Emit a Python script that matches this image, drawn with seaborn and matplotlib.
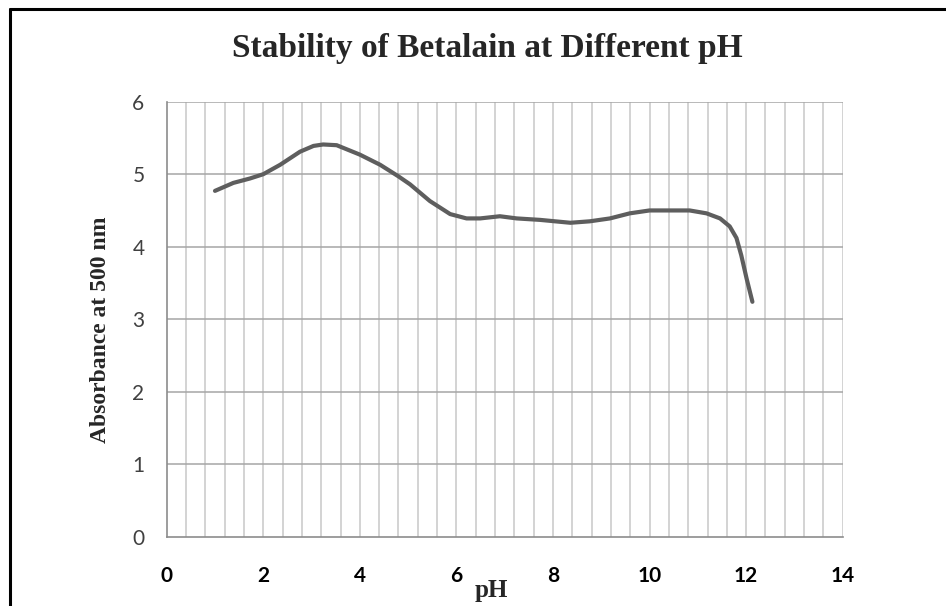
import matplotlib
matplotlib.use("Agg")
import matplotlib.pyplot as plt
from matplotlib.lines import Line2D
import numpy as np
import pandas as pd
import seaborn as sns

# values
ph = [1.00, 1.38, 1.72, 2.00, 2.35, 2.76, 3.04, 3.24, 3.52, 4.00, 4.42, 4.80,
      5.04, 5.45, 5.87, 6.21, 6.49, 6.90, 7.25, 7.73, 8.36, 8.76, 9.18, 9.59,
      10.00, 10.42, 10.83, 11.18, 11.46, 11.66, 11.80, 11.90, 12.01, 12.13]
absorbance = [4.77, 4.88, 4.94, 5.00, 5.13, 5.31, 5.39, 5.41, 5.40, 5.27, 5.13, 4.97,
              4.86, 4.63, 4.45, 4.39, 4.39, 4.42, 4.39, 4.37, 4.33, 4.35, 4.39, 4.46,
              4.50, 4.50, 4.50, 4.46, 4.39, 4.28, 4.12, 3.88, 3.56, 3.24]
x_ticks = [0, 2, 4, 6, 8, 10, 12, 14]
y_ticks = [0, 1, 2, 3, 4, 5, 6]

df = pd.DataFrame({"pH": ph, "Absorbance": absorbance})

sns.set_style("white")
plt.rcParams["font.family"] = ["Lato", "DejaVu Sans"]

W, H = 946, 606
fig = plt.figure(figsize=(W / 100, H / 100), dpi=100)
ax = fig.add_axes([166.7 / W, 1 - 536.7 / H, (842.7 - 166.7) / W, (536.7 - 101.7) / H])

# Excel-like grid: minor verticals every 0.4, majors horizontal
for xv in np.arange(0.4, 14.01, 0.4):
    ax.axvline(xv, color="#c8c8c8", lw=1.1, zorder=0)
for yv in y_ticks[1:]:
    ax.axhline(yv, color="#a6a6a6", lw=1.1, zorder=0)

sns.lineplot(data=df, x="pH", y="Absorbance", sort=False, estimator=None,
             color="#5e5e5e", linewidth=3.0, ax=ax, zorder=3)
ax.lines[-1].set_solid_capstyle("round")
ax.lines[-1].set_solid_joinstyle("round")

ax.set_xlim(0, 14)
ax.set_ylim(0, 6)
ax.set_xticks(x_ticks)
ax.set_yticks(y_ticks)
ax.set_xticklabels([str(t) for t in x_ticks], fontsize=15, fontweight="bold", color="black")
ax.set_yticklabels([str(t) for t in y_ticks], fontsize=15, color="#404040")
ax.tick_params(axis="x", direction="out", length=7, width=1.1, color="#8c8c8c", pad=14)
ax.tick_params(axis="y", direction="out", length=6, width=1.1, color="#8c8c8c", pad=10)

for side in ["top", "right"]:
    ax.spines[side].set_visible(False)
for side in ["left", "bottom"]:
    ax.spines[side].set_color("#8c8c8c")
    ax.spines[side].set_linewidth(1.2)

ax.set_xlabel("")
ax.set_ylabel("")
serif = ["Liberation Serif", "DejaVu Serif"]
fig.text(487 / W, 1 - 49 / H, "Stability of Betalain at Different pH", ha="center", va="center",
         fontsize=24, fontweight="bold", family=serif)
fig.text(491 / W, 1 - 591 / H, "pH", ha="center", va="center",
         fontsize=18, fontweight="bold", family=serif)
fig.text(100 / W, 1 - 330 / H, "Absorbance at 500 nm", ha="center", va="center", rotation=90,
         fontsize=17, fontweight="bold", family=serif)

# frame around the chart area
fig.add_artist(Line2D([10 / W, 10 / W], [0, 1 - 9 / H], transform=fig.transFigure,
                      color="black", lw=2.2))
fig.add_artist(Line2D([10 / W, 1], [1 - 9 / H, 1 - 9 / H], transform=fig.transFigure,
                      color="black", lw=2.2))

fig.savefig("out.png", dpi=100)
